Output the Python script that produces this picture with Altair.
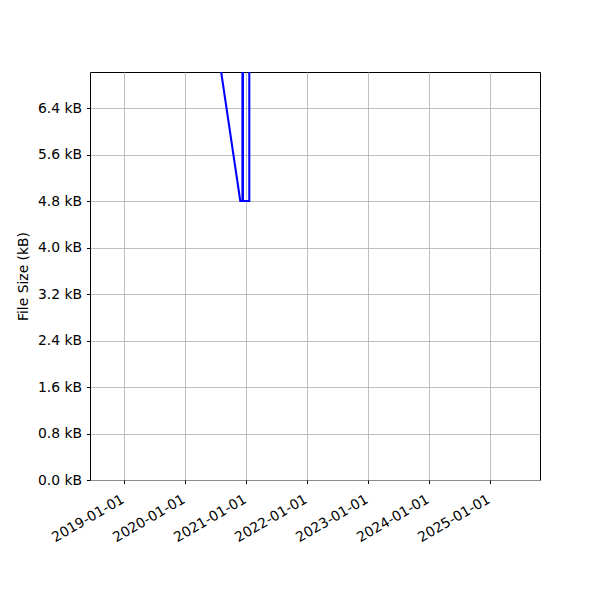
import altair as alt
import pandas as pd

# Data (values in kB)
dates = ["2020-06-01", "2020-11-26", "2020-12-09", "2020-12-09",
         "2020-12-12", "2020-12-12", "2021-01-19", "2021-01-19"]
sizes = [8.25, 4.8, 4.8, 12.0, 12.0, 4.8, 4.8, 12.0]
seq = list(range(len(dates)))

y_ticks = [0.0, 0.8, 1.6, 2.4, 3.2, 4.0, 4.8, 5.6, 6.4]
x_ticks = ["2019-01-01", "2020-01-01", "2021-01-01", "2022-01-01",
           "2023-01-01", "2024-01-01", "2025-01-01"]

df = pd.DataFrame({"date": pd.to_datetime(dates), "size": sizes, "seq": seq})

FONT = "DejaVu Sans"
FS = 13.9

x_vals = [alt.DateTime(year=int(d[:4]), month=1, date=1) for d in x_ticks]

chart = alt.Chart(df).mark_line(
    color="#0000ff", strokeWidth=2.08, clip=True
).encode(
    x=alt.X("date:T",
            scale=alt.Scale(domain=[alt.DateTime(year=2018, month=6, date=10),
                                    alt.DateTime(year=2025, month=10, date=26)]),
            axis=alt.Axis(values=x_vals, format="%Y-%m-%d", title=None,
                          labelAngle=-30, labelAlign="right", labelBaseline="top",
                          labelPadding=8.5, labelOffset=-5, tickSize=3.5,
                          tickColor="black", domain=False,
                          grid=True, gridColor="#b0b0b0", gridWidth=0.8,
                          labelFont=FONT, labelFontSize=FS, labelColor="black",
                          labelOverlap=False, labelFlush=False)),
    y=alt.Y("size:Q",
            scale=alt.Scale(domain=[0, 7.02], nice=False, zero=True),
            axis=alt.Axis(values=y_ticks,
                          labelExpr="format(datum.value, '.1f') + ' kB'",
                          title="File Size (kB)", titleFont=FONT,
                          titleFontSize=FS, titleFontWeight="normal",
                          titleColor="black", titlePadding=7,
                          tickSize=3.5, tickColor="black", domain=False,
                          labelPadding=4.9, grid=True, gridColor="#b0b0b0",
                          gridWidth=0.8, labelFont=FONT, labelFontSize=FS,
                          labelColor="black", labelOverlap=False,
                          labelFlush=False)),
    order="seq:Q",
).properties(
    width=450, height=408,
    autosize=alt.AutoSizeParams(type="none"),
    padding={"left": 82, "top": 64, "right": 52, "bottom": 112},
).configure(
    background="white"
).configure_view(
    stroke="black", strokeWidth=1
)

chart.save("out.html", embed_options={"renderer": "svg", "actions": False})
